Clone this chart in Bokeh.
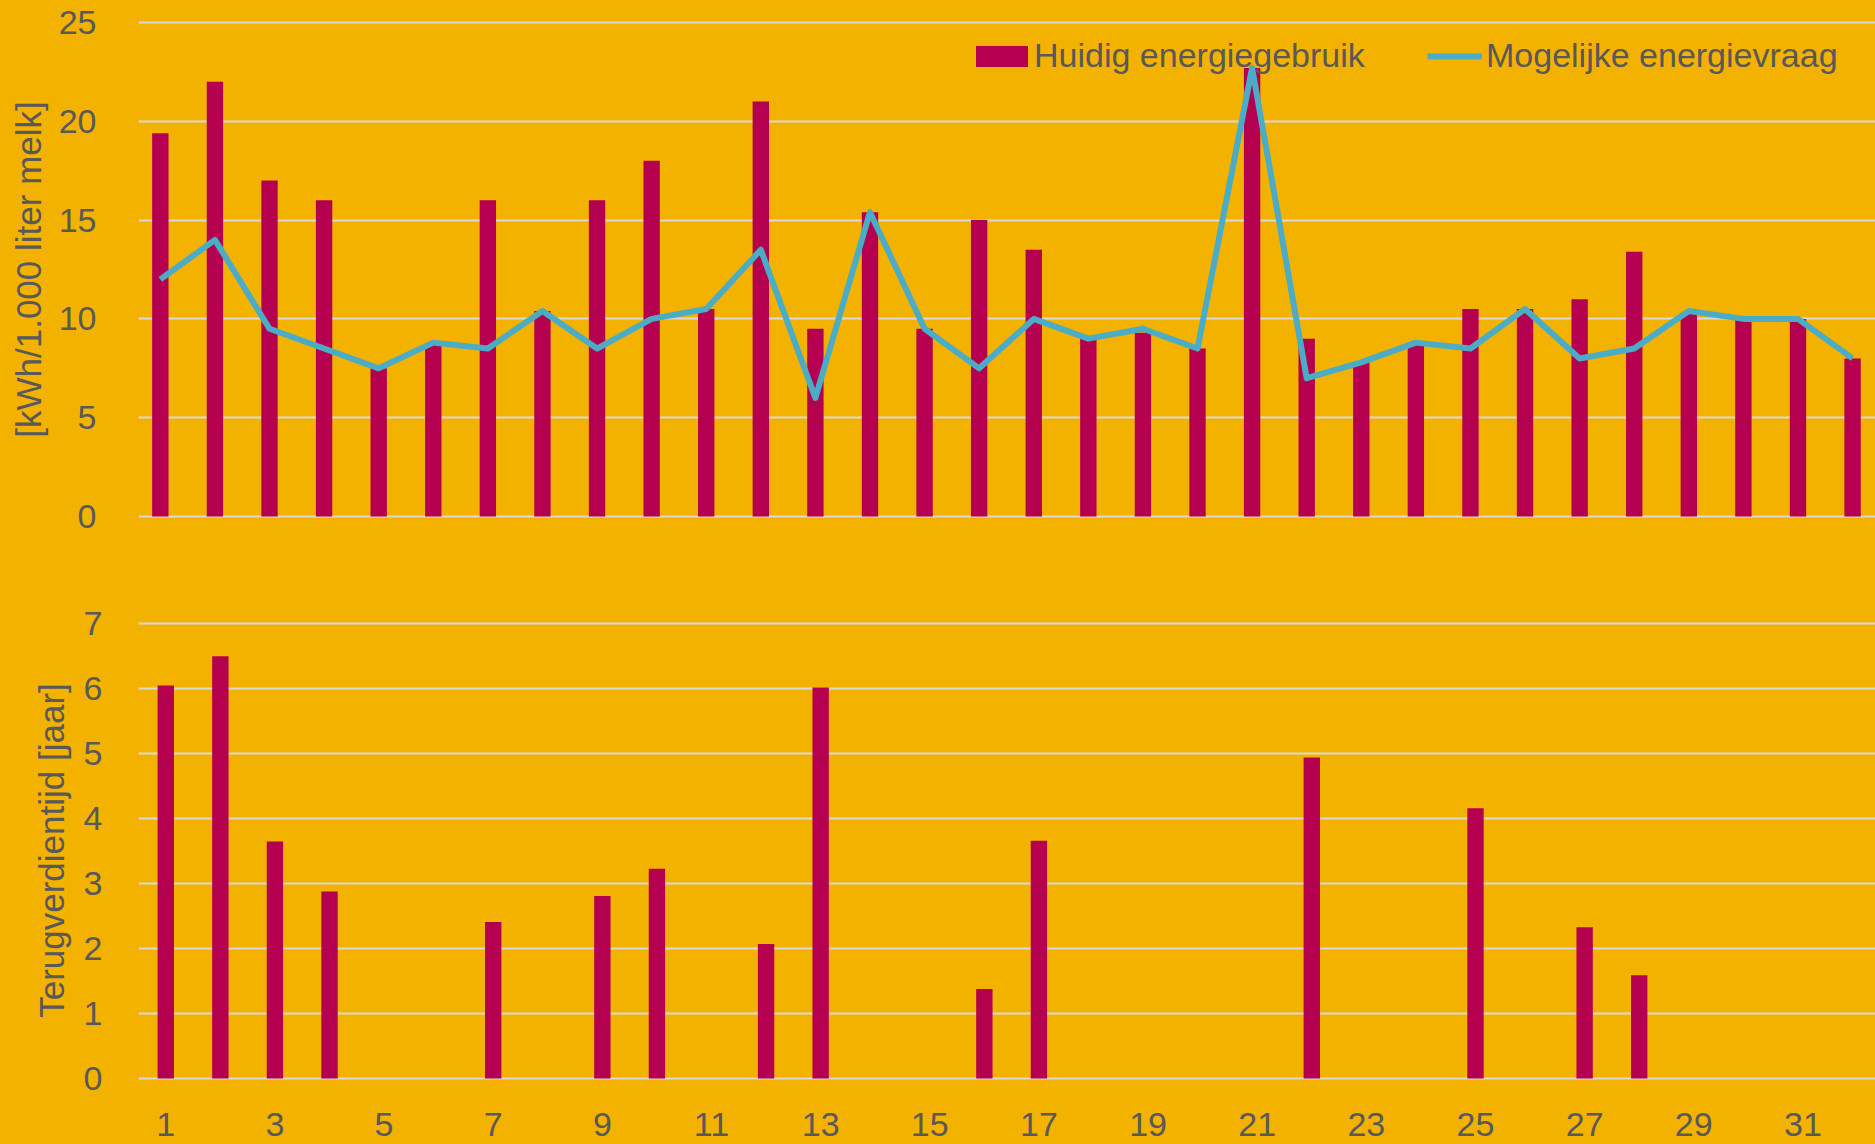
from bokeh.plotting import figure
from bokeh.layouts import column
from bokeh.models import ColumnDataSource, Range1d, FixedTicker, Legend, LegendItem
from bokeh.embed import file_html
from bokeh.resources import INLINE

# ---- data ----
bedrijven = list(range(1, 33))
huidig_energiegebruik = [19.4, 22.0, 17.0, 16.0, 7.5, 8.7, 16.0, 10.4, 16.0, 18.0,
                         10.5, 21.0, 9.5, 15.4, 9.5, 15.0, 13.5, 9.0, 9.3, 8.5,
                         22.7, 9.0, 7.8, 8.7, 10.5, 10.5, 11.0, 13.4, 10.3, 10.0,
                         10.0, 8.0]
mogelijke_energievraag = [12.0, 14.0, 9.5, 8.5, 7.5, 8.8, 8.5, 10.4, 8.5, 10.0,
                          10.5, 13.5, 6.0, 15.4, 9.5, 7.5, 10.0, 9.0, 9.5, 8.5,
                          22.7, 7.0, 7.8, 8.8, 8.5, 10.5, 8.0, 8.5, 10.4, 10.0,
                          10.0, 8.0]
terugverdientijd = [6.05, 6.5, 3.65, 2.88, 0, 0, 2.41, 0, 2.81, 3.23,
                    0, 2.07, 6.02, 0, 0, 1.38, 3.66, 0, 0, 0,
                    0, 4.94, 0, 0, 4.16, 0, 2.33, 1.59, 0, 0,
                    0, 0]
x_tick_labels = [1, 3, 5, 7, 9, 11, 13, 15, 17, 19, 21, 23, 25, 27, 29, 31]
top_y_ticks = [0, 5, 10, 15, 20, 25]
bottom_y_ticks = [0, 1, 2, 3, 4, 5, 6, 7]

BG = "#F4B200"
BAR = "#B5004F"
LINE = "#4BACC6"
GRID = "#D9D9D9"
TXT = "#595959"
FONT = "Liberation Sans"
FS = "34px"
FS_AX = "35px"

src = ColumnDataSource(dict(x=bedrijven, huidig=huidig_energiegebruik,
                            mogelijk=mogelijke_energievraag, terug=terugverdientijd))


def style(p):
    p.background_fill_color = BG
    p.border_fill_color = BG
    p.outline_line_color = None
    p.xgrid.grid_line_color = None
    p.ygrid.grid_line_color = GRID
    p.ygrid.grid_line_width = 2
    for ax in p.axis:
        ax.axis_line_color = None
        ax.major_tick_line_color = None
        ax.minor_tick_line_color = None
        ax.major_tick_out = 0
        ax.major_tick_in = 0
        ax.major_label_text_font = FONT
        ax.major_label_text_font_size = FS
        ax.major_label_text_color = TXT
        ax.axis_label_text_font = FONT
        ax.axis_label_text_font_size = FS_AX
        ax.axis_label_text_color = TXT
        ax.axis_label_text_font_style = "normal"


# ---- top chart ----
p1 = figure(width=1875, height=563, output_backend="svg", toolbar_location=None,
            x_range=Range1d(0.6, 32.42), y_range=Range1d(-0.1, 25.1),
            min_border_left=138, min_border_right=0, min_border_top=20,
            min_border_bottom=45)
bars = p1.vbar(x="x", top="huidig", width=0.3, source=src, fill_color=BAR, line_color=None)
line = p1.line(x="x", y="mogelijk", source=src, line_color=LINE, line_width=6, line_join="round")
style(p1)
p1.xaxis.visible = False
p1.yaxis.ticker = FixedTicker(ticks=top_y_ticks)
p1.yaxis.axis_label = "[kWh/1.000 liter melk]"
p1.yaxis.major_label_standoff = 42
p1.yaxis.axis_label_standoff = 8

legend_kw = dict(orientation="horizontal", padding=0, margin=0, border_line_color=None,
                 background_fill_alpha=0, label_text_font=FONT, label_text_font_size=FS,
                 label_text_color=TXT)
legend_bar = Legend(items=[LegendItem(label="Huidig energiegebruik", renderers=[bars])],
                    location=(831, 443), glyph_width=65, glyph_height=26,
                    label_standoff=0, **legend_kw)
legend_line = Legend(items=[LegendItem(label="Mogelijke energievraag", renderers=[line])],
                     location=(1289, 443), glyph_width=55, glyph_height=26,
                     label_standoff=4, **legend_kw)
p1.add_layout(legend_bar)
p1.add_layout(legend_line)

# ---- bottom chart ----
p2 = figure(width=1875, height=581, output_backend="svg", toolbar_location=None,
            x_range=Range1d(0.5, 32.33), y_range=Range1d(-0.03, 7.05),
            min_border_left=138, min_border_right=0, min_border_top=57,
            min_border_bottom=64)
p2.vbar(x="x", top="terug", width=0.3, source=src, fill_color=BAR, line_color=None)
style(p2)
p2.xaxis.ticker = FixedTicker(ticks=x_tick_labels)
p2.xaxis.major_label_standoff = 32
p2.yaxis.ticker = FixedTicker(ticks=bottom_y_ticks)
p2.yaxis.axis_label = "Terugverdientijd [jaar]"
p2.yaxis.major_label_standoff = 36
p2.yaxis.axis_label_standoff = 10

layout = column(p1, p2, spacing=0)
layout.background = BG
open("out.html", "w").write(file_html(layout, INLINE))
